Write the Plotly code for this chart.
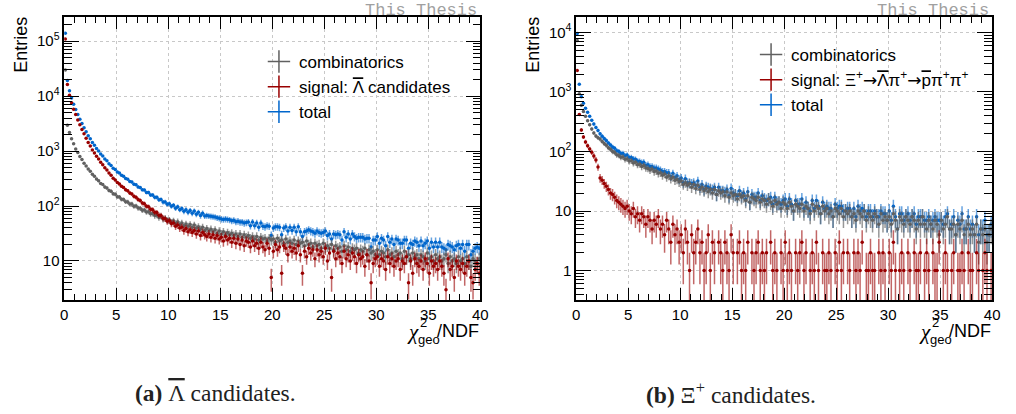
import numpy as np
import plotly.graph_objects as go

# ---------------- data (bins of 0.2 in chi2_geo/NDF, 0..40) ----------------
x_lo, x_hi, n_bins = 0.0, 40.0, 200

lam_comb = [
    30000, 2950, 2170, 1680, 1360, 1090, 940, 795, 700, 598,
    535, 470, 428, 377, 349, 309, 288, 258, 246, 222,
    212, 192, 186, 167, 163, 148, 146, 133, 131, 120,
    119, 109, 109, 99, 100, 92, 91, 84, 85, 78,
    79, 72, 73, 67, 68, 62, 65, 58, 60, 55,
    56, 51, 54, 48, 52, 46, 49, 44, 47, 43,
    46, 41, 45, 40, 42, 38, 41, 36, 39, 35,
    38, 34, 37, 32, 35, 31, 34, 30, 33, 30,
    32, 29, 31, 28, 31, 27, 30, 27, 29, 26,
    28, 25, 28, 24, 27, 25, 26, 23, 26, 24,
    25, 22, 26, 23, 24, 21, 25, 22, 23, 21,
    24, 20, 23, 21, 22, 19, 23, 20, 21, 18,
    21, 19, 20, 17, 21, 18, 19, 17, 20, 16,
    19, 17, 18, 15, 19, 16, 18, 15, 17, 16,
    17, 14, 16, 15, 17, 13, 16, 14, 15, 13,
    16, 13, 15, 14, 12, 16, 13, 14, 12, 15,
    13, 14, 11, 15, 12, 13, 11, 14, 12, 13,
    11, 13, 12, 10, 14, 11, 12, 10, 13, 11,
    12, 10, 11, 13, 9, 12, 10, 11, 9, 12,
    10, 11, 9, 12, 10, 8, 11, 10, 9, 11,
]

lam_signal = [
    110000, 16200, 10400, 7560, 5750, 4620, 3680, 3010, 2480, 2060,
    1710, 1440, 1240, 1050, 925, 805, 715, 625, 565, 498,
    452, 398, 362, 322, 298, 268, 252, 229, 218, 198,
    189, 172, 166, 150, 144, 131, 126, 113, 110, 99,
    97, 87, 86, 77, 76, 68, 67, 60, 59, 53,
    54, 48, 49, 43, 45, 40, 41, 36, 39, 34,
    37, 33, 36, 31, 35, 29, 33, 30, 28, 31,
    27, 30, 26, 29, 25, 27, 23, 28, 24, 26,
    22, 26, 21, 25, 20, 24, 19, 23, 22, 18,
    23, 19, 21, 17, 22, 18, 16, 21, 17, 5,
    15, 20, 16, 18, 6, 19, 17, 13, 18, 15,
    17, 14, 19, 13, 6, 15, 12, 17, 14, 16,
    11, 16, 13, 15, 12, 17, 10, 14, 5, 15,
    11, 14, 12, 9, 15, 11, 13, 10, 14, 12,
    9, 13, 11, 12, 8, 13, 10, 4, 9, 11,
    12, 8, 11, 10, 7, 12, 9, 11, 8, 10,
    11, 7, 10, 9, 12, 4, 10, 6, 11, 9,
    8, 10, 7, 11, 9, 6, 10, 8, 9, 7,
    10, 8, 6, 3, 11, 7, 8, 5, 10, 8,
    7, 9, 6, 8, 10, 5, 4, 7, 9, 6,
]

xi_comb = [
    7300, 930, 600, 470, 390, 330, 282, 238, 205, 182,
    171, 162, 148, 136, 127, 116, 109, 100, 96, 88,
    86, 80, 81, 74, 75, 69, 70, 64, 66, 60,
    61, 56, 58, 53, 52, 49, 51, 46, 47, 43,
    44, 40, 42, 37, 39, 35, 37, 33, 34, 31,
    32, 28, 30, 27, 29, 25, 28, 24, 27, 23,
    25, 22, 24, 21, 23, 20, 23, 19, 22, 20,
    21, 18, 21, 17, 20, 18, 19, 16, 19, 17,
    18, 15, 18, 14, 17, 16, 15, 17, 14, 16,
    15, 13, 16, 14, 12, 15, 13, 14, 11, 14,
    13, 11, 14, 12, 10, 13, 12, 11, 13, 10,
    12, 11, 9, 13, 10, 12, 11, 9, 12, 10,
    11, 9, 10, 8, 11, 10, 9, 11, 8, 10,
    9, 10, 8, 9, 7, 10, 9, 8, 10, 7,
    9, 8, 7, 9, 8, 6, 9, 7, 8, 7,
    8, 6, 9, 7, 5, 8, 7, 6, 8, 7,
    6, 8, 7, 5, 7, 6, 8, 6, 5, 7,
    6, 5, 7, 6, 4, 7, 5, 6, 8, 5,
    5, 6, 4, 6, 5, 7, 4, 5, 6, 4,
    5, 4, 6, 3, 5, 4, 5, 3, 4, 5,
]

xi_signal = [
    2300, 420, 230, 175, 145, 125, 110, 97, 84, 72,
    55, 36, 33, 29, 26, 23, 20, 19, 17, 15,
    14, 13, 12, 11, 12, 10, 9, 11, 8, 9,
    7, 9, 8, 6, 8, 7, 5, 7, 6, 8,
    5, 6, 4, 7, 5, 3, 6, 4, 5, 3,
    4, 2, 5, 3, 1, 4, 2, 3, 5, 2,
    3, 1, 2, 4, 1, 3, 2, 0, 3, 2,
    1, 3, 2, 1, 4, 2, 0, 2, 3, 1,
    2, 1, 3, 0, 2, 1, 2, 3, 1, 2,
    1, 2, 0, 3, 1, 2, 1, 0, 2, 1,
    3, 1, 2, 1, 0, 2, 1, 2, 3, 1,
    2, 0, 1, 2, 1, 3, 1, 0, 2, 1,
    1, 2, 1, 0, 2, 1, 3, 1, 2, 0,
    2, 1, 0, 2, 1, 2, 1, 3, 0, 1,
    1, 2, 1, 1, 0, 2, 1, 2, 1, 0,
    2, 1, 3, 1, 0, 1, 2, 1, 0, 2,
    1, 0, 2, 1, 1, 2, 0, 1, 2, 1,
    0, 2, 1, 1, 3, 0, 1, 2, 1, 0,
    1, 2, 0, 1, 1, 2, 1, 0, 2, 1,
    1, 0, 2, 1, 0, 1, 2, 1, 0, 1,
]

lam_ticks = [10, 100, 1e3, 1e4, 1e5]
lam_ticktext = ["10", "10<sup>2</sup>", "10<sup>3</sup>", "10<sup>4</sup>", "10<sup>5</sup>"]
xi_ticks = [1, 10, 100, 1e3, 1e4]
xi_ticktext = ["1", "10", "10<sup>2</sup>", "10<sup>3</sup>", "10<sup>4</sup>"]

OVL = '<span style="text-decoration:overline">{}</span>'
ARR = '<span style="font-family:DejaVu Sans">→</span>'
legend_names = ["combinatorics", "signal: " + OVL.format("Λ") + " candidates", "total"]
legend_names_xi = ["combinatorics",
                   "signal: Ξ<sup>+</sup>" + ARR + OVL.format("Λ") + "π<sup>+</sup>" + ARR
                   + OVL.format("p") + "π<sup>+</sup>π<sup>+</sup>",
                   "total"]
captions = ["<b>(a)</b> " + OVL.format("Λ") + " candidates.", "<b>(b)</b> Ξ<sup>+</sup> candidates."]

# ---------------- styling ----------------
W, H = 1016, 414
C_GRAY, E_GRAY = "#606060", "rgba(96,96,96,0.65)"
C_RED, E_RED = "#990000", "rgba(153,0,0,0.6)"
C_BLUE, E_BLUE = "#0066cc", "rgba(0,102,204,0.6)"
SANS = "Liberation Sans, Arial, sans-serif"

bw = (x_hi - x_lo) / n_bins
centers = x_lo + bw * (np.arange(n_bins) + 0.5)


def hist(vals, color, ecolor, xa, ya):
    v = np.asarray(vals, dtype=float)
    y = [float(a) if a > 0 else None for a in v]
    err = np.sqrt(v)
    lo = np.minimum(err, np.maximum(v - 1e-3, 0))
    return go.Scatter(
        x=centers, y=y, mode="markers", xaxis=xa, yaxis=ya, showlegend=False,
        marker=dict(size=3.5, color=color),
        error_y=dict(type="data", array=err, arrayminus=lo, color=ecolor, thickness=1.5, width=0),
        error_x=dict(type="constant", value=bw / 2, color=ecolor, thickness=1.5, width=0),
        hoverinfo="skip",
    )


fig = go.Figure()
panels = [
    (lam_comb, lam_signal, "x", "y", "legend", legend_names),
    (xi_comb, xi_signal, "x2", "y2", "legend2", legend_names_xi),
]
for comb, sig, xa, ya, leg, names in panels:
    total = np.asarray(comb) + np.asarray(sig)
    fig.add_trace(hist(total, C_BLUE, E_BLUE, xa, ya))
    fig.add_trace(hist(comb, C_GRAY, E_GRAY, xa, ya))
    fig.add_trace(hist(sig, C_RED, E_RED, xa, ya))
    for rank, (nm, col) in enumerate(zip(names, [C_GRAY, C_RED, C_BLUE])):
        fig.add_trace(go.Scatter(
            x=[None], y=[None], mode="markers", xaxis=xa, yaxis=ya, name=nm,
            legend=leg, legendrank=rank + 1, legendgroup=f"{leg}{rank}",
            marker=dict(symbol="cross-thin", size=16, color=col, line=dict(width=1.5, color=col)),
        ))

x0L, x1L = 61, 482
x0R, x1R = 579, 1000
yT, yB = 17, 300

def xaxis_cfg(x0, x1, anchor):
    return dict(
        domain=[x0 / W, x1 / W], range=[x_lo, x_hi], anchor=anchor,
        showline=True, linecolor="black", linewidth=1.5, mirror="allticks",
        ticks="inside", ticklen=12, tickwidth=1, tickcolor="black", dtick=5,
        minor=dict(ticks="inside", ticklen=6, dtick=1, tickcolor="black", showgrid=False),
        showgrid=True, gridcolor="#c8c8c8", griddash="dot", gridwidth=1,
        zeroline=False, tickfont=dict(family=SANS, size=15, color="black"),
    )

def yaxis_cfg(rng, tv, tt, anchor):
    return dict(
        type="log", domain=[1 - yB / H, 1 - yT / H], range=rng, anchor=anchor,
        showline=True, linecolor="black", linewidth=1.5, mirror="allticks",
        ticks="inside", ticklen=15, tickwidth=1, tickcolor="black",
        tickvals=tv, ticktext=tt,
        minor=dict(ticks="inside", ticklen=8, dtick="D1", tickcolor="black", showgrid=False),
        showgrid=True, gridcolor="#c8c8c8", griddash="dot", gridwidth=1,
        zeroline=False, tickfont=dict(family=SANS, size=15, color="black"),
    )

legend_common = dict(bgcolor="rgba(0,0,0,0)", font=dict(family=SANS, size=17, color="black"),
                     xanchor="left", yanchor="top", traceorder="grouped", tracegroupgap=0,
                     itemsizing="trace")

fig.update_layout(
    width=W, height=H, margin=dict(l=0, r=0, t=0, b=0),
    paper_bgcolor="white", plot_bgcolor="white",
    xaxis=xaxis_cfg(x0L, x1L, "y"),
    yaxis=yaxis_cfg([np.log10(1.95), 5.44], lam_ticks, lam_ticktext, "x"),
    xaxis2=xaxis_cfg(x0R, x1R, "y2"),
    yaxis2=yaxis_cfg([np.log10(0.32), 4.26], xi_ticks, xi_ticktext, "x2"),
    legend=dict(x=258 / W, y=1 - 44 / H, **legend_common),
    legend2=dict(x=756 / W, y=1 - 37 / H, **legend_common),
)

ann = []
for off, x1 in [(0, x1L), (518, x1R)]:
    # y title (ROOT style, at top of axis)
    ann.append(dict(text="Entries", x=(17 + off) / W, y=1 - 15 / H, xref="paper", yref="paper",
                    xanchor="center", yanchor="top", textangle=-90, showarrow=False,
                    font=dict(family=SANS, size=18, color="black")))
    # x title pieces
    ann.append(dict(text="/NDF", x=x1 / W, y=1 - 331 / H, xref="paper", yref="paper",
                    xanchor="right", yanchor="middle", showarrow=False, borderpad=0,
                    font=dict(family=SANS, size=18, color="black")))
    ann.append(dict(text="geo", x=(430 + off) / W, y=1 - 339 / H, xref="paper", yref="paper",
                    xanchor="center", yanchor="middle", showarrow=False, borderpad=0,
                    font=dict(family=SANS, size=13, color="black")))
    ann.append(dict(text="2", x=(425 + off) / W, y=1 - 322 / H, xref="paper", yref="paper",
                    xanchor="center", yanchor="middle", showarrow=False, borderpad=0,
                    font=dict(family=SANS, size=13, color="black")))
    ann.append(dict(text="<i>χ</i>", x=(421 + off) / W, y=1 - 332 / H, xref="paper", yref="paper",
                    xanchor="right", yanchor="middle", showarrow=False, borderpad=0,
                    font=dict(family="Liberation Serif, serif", size=21, color="black")))
    # watermark
    ann.append(dict(text="This Thesis", x=(480 + off) / W, y=1.0, xref="paper", yref="paper",
                    xanchor="right", yanchor="top", showarrow=False, borderpad=0,
                    font=dict(family="Liberation Mono, monospace", size=17, color="#a0a0a0")))

for cx, cap in zip([214, 736], captions):
    ann.append(dict(text=cap, x=cx / W, y=1 - 393 / H, xref="paper", yref="paper",
                    xanchor="center", yanchor="middle", showarrow=False,
                    font=dict(family="Liberation Serif, serif", size=23.5, color="#222222")))

fig.update_layout(annotations=ann)
fig.write_html("out.html")
